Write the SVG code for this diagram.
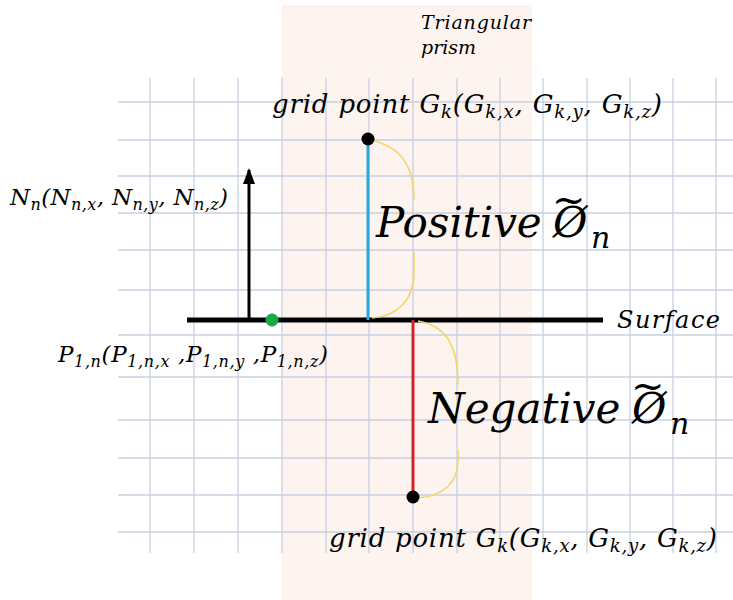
<svg xmlns="http://www.w3.org/2000/svg" width="733" height="600" viewBox="0 0 733 600">
<defs>
<style>
.grid line{stroke:#c7cfe2;stroke-width:1.3}
.lbl{font-family:"DejaVu Serif","Liberation Serif",serif;font-style:italic;fill:#000}
.curve{fill:none;stroke:#f3d66a;stroke-width:1.6}
</style>
<marker id="ah" markerWidth="16" markerHeight="12" refX="14" refY="6" orient="auto" markerUnits="userSpaceOnUse" viewBox="0 0 16 12">
<path d="M0,0 L16,6 L0,12 Z" fill="#000"/>
</marker>
</defs>
<rect width="733" height="600" fill="#fff"/>
<rect id="prism-bg" x="282" y="5" width="250" height="595" fill="#fdf4f0"/>
<g class="grid">
<line x1="150" y1="78" x2="150" y2="553"/>
<line x1="194" y1="78" x2="194" y2="553"/>
<line x1="238" y1="78" x2="238" y2="553"/>
<line x1="282" y1="78" x2="282" y2="553"/>
<line x1="326" y1="78" x2="326" y2="553"/>
<line x1="369" y1="78" x2="369" y2="553"/>
<line x1="413" y1="78" x2="413" y2="553"/>
<line x1="457" y1="78" x2="457" y2="553"/>
<line x1="500" y1="78" x2="500" y2="553"/>
<line x1="543" y1="78" x2="543" y2="553"/>
<line x1="587" y1="78" x2="587" y2="553"/>
<line x1="630" y1="78" x2="630" y2="553"/>
<line x1="673" y1="78" x2="673" y2="553"/>
<line x1="716" y1="78" x2="716" y2="553"/>
<line x1="118" y1="102" x2="733" y2="102"/>
<line x1="118" y1="140" x2="733" y2="140"/>
<line x1="118" y1="176" x2="733" y2="176"/>
<line x1="118" y1="213" x2="733" y2="213"/>
<line x1="118" y1="250" x2="733" y2="250"/>
<line x1="118" y1="290" x2="733" y2="290"/>
<line x1="118" y1="335" x2="733" y2="335"/>
<line x1="118" y1="377" x2="733" y2="377"/>
<line x1="118" y1="420" x2="733" y2="420"/>
<line x1="118" y1="458" x2="733" y2="458"/>
<line x1="118" y1="495" x2="733" y2="495"/>
<line x1="118" y1="532" x2="733" y2="532"/>
</g>
<g id="connectors">
<line id="surface-line" x1="187" y1="320" x2="603" y2="320" stroke="#000" stroke-width="5"/>
<line id="normal-arrow" x1="249" y1="320" x2="249" y2="170" stroke="#000" stroke-width="3" marker-end="url(#ah)"/>
<line id="pos-dist" x1="368" y1="140" x2="368" y2="320" stroke="#2aa6df" stroke-width="3"/>
<line id="neg-dist" x1="413" y1="320" x2="413" y2="497" stroke="#d4202a" stroke-width="3"/>
<path class="curve" d="M370,140 C400,146 414,165 414,200"/>
<path class="curve" d="M414,252 L414,272 C414,300 398,316 372,318"/>
<path class="curve" d="M418,321 C446,326 458,345 458,385"/>
<path class="curve" d="M458,450 L458,460 C458,482 444,496 418,498"/>
</g>
<g id="prism-label">
<text class="lbl" x="421" y="29" font-size="19" textLength="110">Triangular</text>
<text class="lbl" x="421" y="54" font-size="19">prism</text>
</g>
<g id="grid-point-top">
<circle cx="368" cy="139" r="6.5" fill="#000"/>
<text class="lbl" x="272" y="113" font-size="26" textLength="390">grid point G<tspan font-size="18" dy="5">k</tspan><tspan dy="-5">(G</tspan><tspan font-size="18" dy="5">k,x</tspan><tspan dy="-5">, G</tspan><tspan font-size="18" dy="5">k,y</tspan><tspan dy="-5">, G</tspan><tspan font-size="18" dy="5">k,z</tspan><tspan dy="-5">)</tspan></text>
</g>
<g id="normal-label">
<text class="lbl" x="10" y="205" font-size="23" textLength="218">N<tspan font-size="16" dy="5">n</tspan><tspan dy="-5">(N</tspan><tspan font-size="16" dy="5">n,x</tspan><tspan dy="-5">, N</tspan><tspan font-size="16" dy="5">n,y</tspan><tspan dy="-5">, N</tspan><tspan font-size="16" dy="5">n,z</tspan><tspan dy="-5">)</tspan></text>
</g>
<g id="positive-label">
<text class="lbl" x="376" y="237" font-size="42">Positive<tspan x="553">Ø</tspan><tspan x="552" dy="-24" font-style="normal" font-size="40">~</tspan><tspan x="591" dy="35" font-size="30">n</tspan></text>
</g>
<g id="surface">
<text class="lbl" x="617" y="328" font-size="24" textLength="103">Surface</text>
</g>
<g id="point-p">
<circle cx="272" cy="320" r="6.5" fill="#18a84a"/>
<text class="lbl" x="58" y="362" font-size="23" textLength="270">P<tspan font-size="16" dy="5">1,n</tspan><tspan dy="-5">(P</tspan><tspan font-size="16" dy="5">1,n,x</tspan><tspan dy="-5"> ,P</tspan><tspan font-size="16" dy="5">1,n,y</tspan><tspan dy="-5"> ,P</tspan><tspan font-size="16" dy="5">1,n,z</tspan><tspan dy="-5">)</tspan></text>
</g>
<g id="negative-label">
<text class="lbl" x="428" y="423" font-size="42">Negative<tspan x="632">Ø</tspan><tspan x="631" dy="-24" font-style="normal" font-size="40">~</tspan><tspan x="670" dy="35" font-size="30">n</tspan></text>
</g>
<g id="grid-point-bottom">
<circle cx="413" cy="497" r="6.5" fill="#000"/>
<text class="lbl" x="329" y="547" font-size="26" textLength="388">grid point G<tspan font-size="18" dy="5">k</tspan><tspan dy="-5">(G</tspan><tspan font-size="18" dy="5">k,x</tspan><tspan dy="-5">, G</tspan><tspan font-size="18" dy="5">k,y</tspan><tspan dy="-5">, G</tspan><tspan font-size="18" dy="5">k,z</tspan><tspan dy="-5">)</tspan></text>
</g>
</svg>
